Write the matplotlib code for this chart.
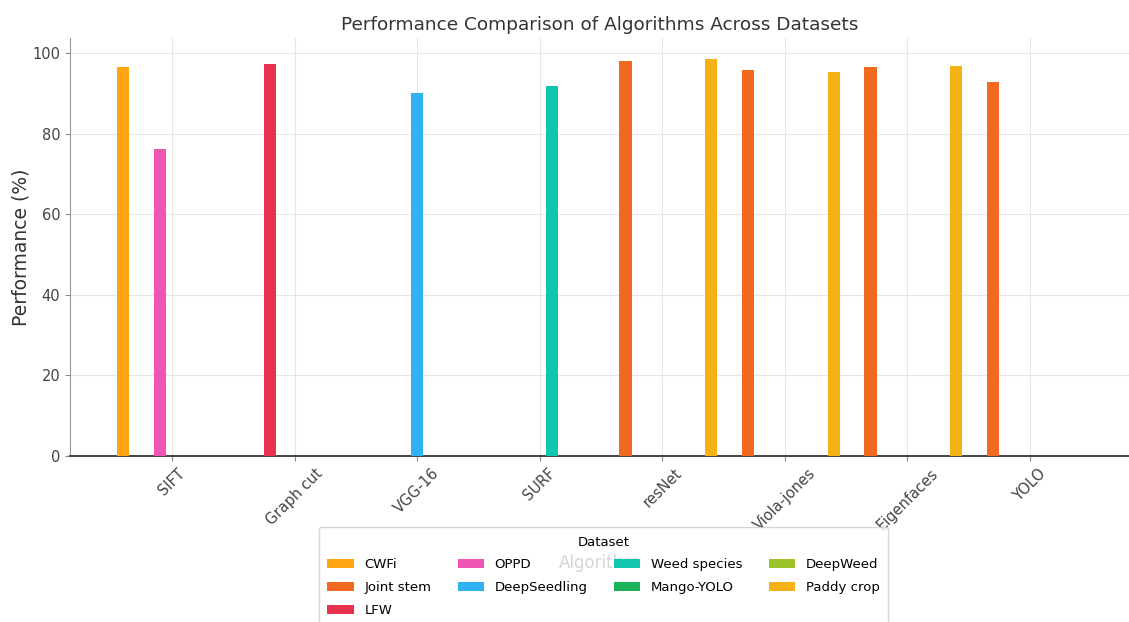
import numpy as np
import matplotlib
matplotlib.use("Agg")
import matplotlib.pyplot as plt

nan = np.nan

# algorithms on the x axis
algorithms = ['SIFT', 'Graph cut', 'VGG-16', 'SURF', 'resNet', 'Viola-jones', 'Eigenfaces', 'YOLO']

# one list per dataset, nan where the algorithm was not tested on it
cwfi = [96.7, nan, nan, nan, nan, nan, nan, nan]
joint_stem = [nan, nan, nan, nan, 98.1, 95.9, 96.5, 92.8]
lfw = [nan, 97.3, nan, nan, nan, nan, nan, nan]
oppd = [76.2, nan, nan, nan, nan, nan, nan, nan]
deepseedling = [nan, nan, 90.1, nan, nan, nan, nan, nan]
weed_species = [nan, nan, nan, 91.9, nan, nan, nan, nan]
mango_yolo = [nan, nan, nan, nan, nan, nan, nan, nan]
deepweed = [nan, nan, nan, nan, nan, nan, nan, nan]
paddy_crop = [nan, nan, nan, nan, 98.7, 95.4, 96.8, nan]

datasets = ['CWFi', 'Joint stem', 'LFW', 'OPPD', 'DeepSeedling',
            'Weed species', 'Mango-YOLO', 'DeepWeed', 'Paddy crop']
series = [cwfi, joint_stem, lfw, oppd, deepseedling,
          weed_species, mango_yolo, deepweed, paddy_crop]
colors = ['#FFA514', '#F26A22', '#E8304F', '#EE55B5', '#2EB2F0',
          '#12C5B0', '#1BB35A', '#9CC42A', '#F5B214']

fig = plt.figure(figsize=(11.29, 6.22), dpi=100)
ax = fig.add_axes([70 / 1129, 166 / 622, 1059 / 1129, 418 / 622])

x = np.arange(len(algorithms))
w = 0.1
for j, (name, vals, c) in enumerate(zip(datasets, series, colors)):
    ax.bar(x + (j - 4) * w, np.nan_to_num(vals), width=w, color=c, label=name, zorder=3)

ax.set_xlim(-0.833, 7.81)
ax.set_ylim(0, 103.8)
ax.set_xticks(x)
ax.set_xticklabels(algorithms, rotation=45, fontsize=10.5, color='#444444')
ax.tick_params(axis='y', labelsize=10.5, labelcolor='#444444', color='#888888')
ax.tick_params(axis='x', color='#888888')
ax.set_yticks([0, 20, 40, 60, 80, 100])

ax.grid(True, color='#e6e6e6', linewidth=0.8, zorder=0)
ax.set_axisbelow(True)
for s in ['top', 'right']:
    ax.spines[s].set_visible(False)
ax.spines['left'].set_color('#999999')
ax.spines['bottom'].set_color('#444444')
ax.spines['bottom'].set_linewidth(1.4)

ax.set_title('Performance Comparison of Algorithms Across Datasets', fontsize=13.3, color='#333333')
ax.set_ylabel('Performance (%)', fontsize=13.5, color='#333333', labelpad=1)
# the x label sits behind the legend, as in the original
ax.set_xlabel('Algorithm', fontsize=12, color='#333333', labelpad=15)

ax.legend(title='Dataset', ncol=4, fontsize=9.5, title_fontsize=9.5,
          loc='upper center', bbox_to_anchor=(603.5 / 1129, 1 - 527 / 622),
          bbox_transform=fig.transFigure, borderaxespad=0, borderpad=0.65,
          labelspacing=0.75)

fig.savefig('out.png', dpi=100)
